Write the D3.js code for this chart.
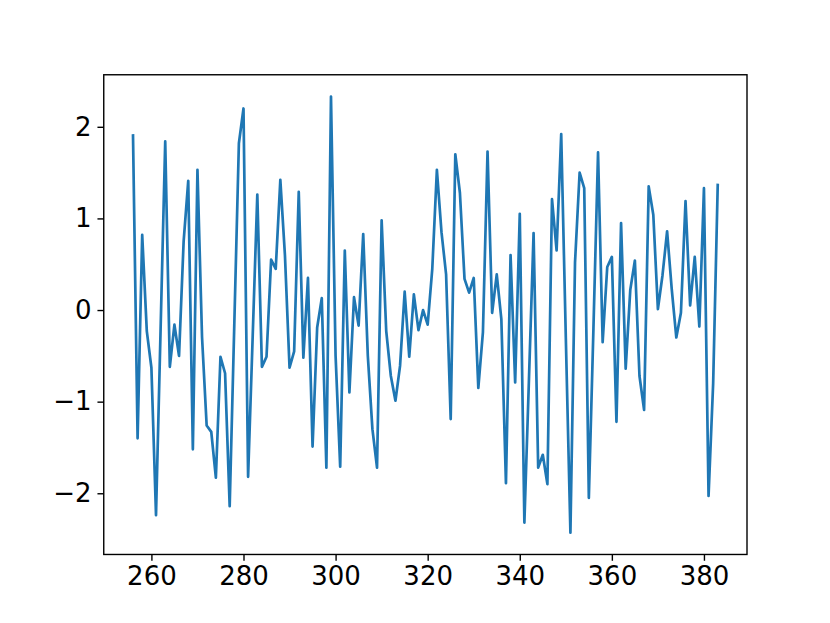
<!DOCTYPE html>
<html>
<head>
<meta charset="utf-8">
<script src="https://cdn.jsdelivr.net/npm/d3@7"></script>
<style>
  html, body { margin: 0; padding: 0; background: #fff; }
  svg { display: block; }
  text { font-family: "DejaVu Sans", sans-serif; }
</style>
</head>
<body>
<svg id="chart" width="830" height="623"></svg>
<script>
const xStart = 256;
const values = [
  1.92, -1.40, 0.82, -0.23, -0.63, -2.24, -0.20, 1.84, -0.62, -0.16,
  -0.50, 0.75, 1.41, -1.52, 1.53, -0.30, -1.26, -1.33, -1.83, -0.51,
  -0.69, -2.14, -0.16, 1.82, 2.20, -1.82, -0.28, 1.26, -0.62, -0.51,
  0.55, 0.45, 1.42, 0.60, -0.63, -0.45, 1.29, -0.52, 0.35, -1.49,
  -0.19, 0.13, -1.72, 2.33, -0.50, -1.71, 0.65, -0.90, 0.14, -0.17,
  0.83, -0.50, -1.30, -1.72, 0.98, -0.23, -0.72, -0.99, -0.61, 0.20,
  -0.51, 0.17, -0.22, 0.00, -0.16, 0.45, 1.53, 0.85, 0.39, -1.19,
  1.70, 1.28, 0.34, 0.19, 0.35, -0.85, -0.24, 1.73, -0.03, 0.39,
  -0.10, -1.89, 0.60, -0.79, 1.05, -2.32, -0.75, 0.84, -1.72, -1.58,
  -1.90, 1.21, 0.65, 1.92, -0.30, -2.43, 0.52, 1.50, 1.33, -2.05,
  -0.20, 1.72, -0.35, 0.47, 0.58, -1.22, 0.95, -0.64, 0.22, 0.54,
  -0.72, -1.09, 1.35, 1.04, 0.01, 0.38, 0.86, 0.23, -0.30, -0.03,
  1.19, 0.05, 0.58, -0.18, 1.33, -2.03, -0.80, 1.38
];
const xTicks = [260, 280, 300, 320, 340, 360, 380];
const yTicks = [-2, -1, 0, 1, 2];

(function () {
  const data = values.map((v, i) => ({ x: xStart + i, y: v }));

  const W = 830, H = 623;
  const mLeft = 0.125 * W, mRight = 0.9 * W, mTop = 0.12 * H, mBottom = 0.89 * H;

  const xMin = d3.min(data, d => d.x), xMax = d3.max(data, d => d.x);
  const yMin = d3.min(data, d => d.y), yMax = d3.max(data, d => d.y);
  const xPad = (xMax - xMin) * 0.05, yPad = (yMax - yMin) * 0.05;

  const x = d3.scaleLinear().domain([xMin - xPad, xMax + xPad]).range([mLeft, mRight]);
  const y = d3.scaleLinear().domain([yMin - yPad, yMax + yPad]).range([mBottom, mTop]);

  const svg = d3.select("#chart");
  const fmt = d => d < 0 ? "\u2212" + Math.abs(d) : String(d);

  const line = d3.line().x(d => x(d.x)).y(d => y(d.y));
  svg.append("path")
    .datum(data)
    .attr("d", line)
    .attr("fill", "none")
    .attr("stroke", "#1f77b4")
    .attr("stroke-width", 2.7)
    .attr("stroke-linejoin", "round")
    .attr("stroke-linecap", "butt");

  const xAxis = svg.append("g")
    .attr("transform", `translate(0,${mBottom})`)
    .call(d3.axisBottom(x).tickValues(xTicks).tickFormat(fmt).tickSize(6.3).tickPadding(6));
  const yAxis = svg.append("g")
    .attr("transform", `translate(${mLeft},0)`)
    .call(d3.axisLeft(y).tickValues(yTicks).tickFormat(fmt).tickSize(6.3).tickPadding(6));

  [xAxis, yAxis].forEach(g => {
    g.select(".domain").remove();
    g.selectAll(".tick line").attr("stroke", "#000").attr("stroke-width", 1.4);
    g.selectAll(".tick text")
      .attr("fill", "#000")
      .style("font-size", "26px")
      .style("font-family", "'DejaVu Sans', sans-serif");
  });

  svg.append("rect")
    .attr("x", mLeft).attr("y", mTop)
    .attr("width", mRight - mLeft).attr("height", mBottom - mTop)
    .attr("fill", "none")
    .attr("stroke", "#000")
    .attr("stroke-width", 1.4);
})();
</script>
</body>
</html>
